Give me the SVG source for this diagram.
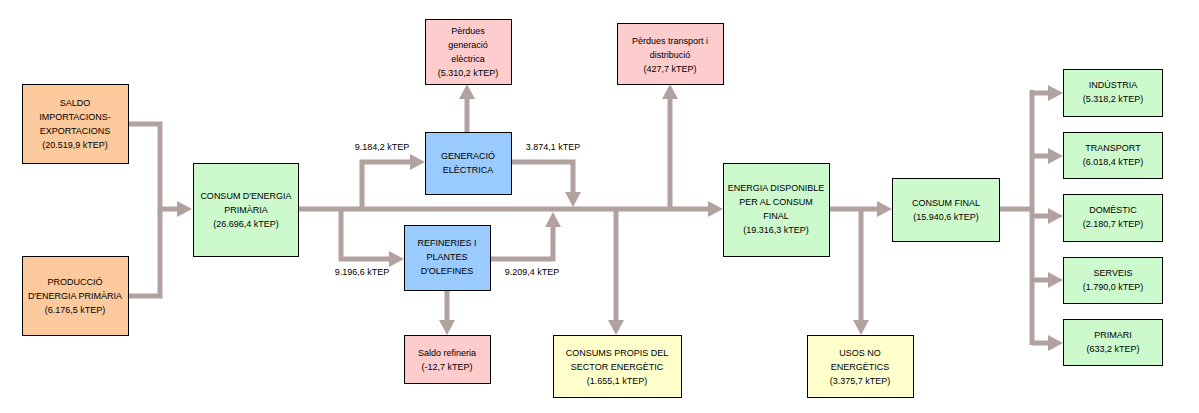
<svg xmlns="http://www.w3.org/2000/svg" width="1199" height="413" viewBox="0 0 1199 413">
<style>
.b{stroke:#000;stroke-width:1}
.o{fill:#fcca9c}.g{fill:#ccfacc}.bl{fill:#99cbff}.p{fill:#fdcccc}.y{fill:#ffffcc}
text{font-family:"Liberation Sans",Arial,sans-serif;font-size:9px;fill:#000;text-anchor:middle}
.c path{fill:none;stroke:#b2a29f;stroke-width:5;stroke-linejoin:miter}
</style>
<defs>
<marker id="ah" markerUnits="userSpaceOnUse" markerWidth="15" markerHeight="16" viewBox="0 0 15 16" refX="1" refY="8" orient="auto">
<path d="M0,0 L15,8 L0,16 Z" fill="#b2a29f"/>
</marker>
</defs>
<rect width="1199" height="413" fill="#fff"/>
<g class="c" id="connectors">
<path d="M128,124 H160 V209 H178" marker-end="url(#ah)"/>
<path d="M128,296 H160 V209"/>
<path d="M298,209 H709" marker-end="url(#ah)"/>
<path d="M362,209 V162 H411" marker-end="url(#ah)"/>
<path d="M511,162 H573 V193" marker-end="url(#ah)"/>
<path d="M467,132 V98" marker-end="url(#ah)"/>
<path d="M341,209 V259 H390" marker-end="url(#ah)"/>
<path d="M490,259 H553 V226" marker-end="url(#ah)"/>
<path d="M447,290 V321" marker-end="url(#ah)"/>
<path d="M670,209 V98" marker-end="url(#ah)"/>
<path d="M616,209 V321" marker-end="url(#ah)"/>
<path d="M829,209 H878" marker-end="url(#ah)"/>
<path d="M861,209 V321" marker-end="url(#ah)"/>
<path d="M999,209 H1032"/>
<path d="M1032,90 V345"/>
<path d="M1032,93 H1049" marker-end="url(#ah)"/>
<path d="M1032,156 H1049" marker-end="url(#ah)"/>
<path d="M1032,216 H1049" marker-end="url(#ah)"/>
<path d="M1032,280 H1049" marker-end="url(#ah)"/>
<path d="M1032,343 H1049" marker-end="url(#ah)"/>
</g>
<g id="labels">
<text x="382" y="150">9.184,2 kTEP</text>
<text x="553" y="150">3.874,1 kTEP</text>
<text x="362" y="275">9.196,6 kTEP</text>
<text x="532" y="275">9.209,4 kTEP</text>
</g>
<g id="saldo"><rect class="b o" x="22.5" y="84.5" width="106" height="79"/>
<text x="75" y="106">SALDO</text><text x="75" y="120">IMPORTACIONS-</text><text x="75" y="134">EXPORTACIONS</text><text x="75" y="148">(20.519,9 kTEP)</text></g>
<g id="produccio"><rect class="b o" x="22.5" y="256.5" width="106" height="79"/>
<text x="75" y="285">PRODUCCIÓ</text><text x="75" y="299">D'ENERGIA PRIMÀRIA</text><text x="75" y="313">(6.176,5 kTEP)</text></g>
<g id="consum-primaria"><rect class="b g" x="193.5" y="163.5" width="105" height="93"/>
<text x="246" y="199">CONSUM D'ENERGIA</text><text x="246" y="213">PRIMÀRIA</text><text x="246" y="227">(26.696,4 kTEP)</text></g>
<g id="perdues-gen"><rect class="b p" x="425.5" y="19.5" width="86" height="65"/>
<text x="468" y="34">Pèrdues</text><text x="468" y="48">generació</text><text x="468" y="62">elèctrica</text><text x="468" y="76">(5.310,2 kTEP)</text></g>
<g id="generacio"><rect class="b bl" x="425.5" y="132.5" width="86" height="62"/>
<text x="468" y="159">GENERACIÓ</text><text x="468" y="173">ELÈCTRICA</text></g>
<g id="refineries"><rect class="b bl" x="404.5" y="225.5" width="86" height="65"/>
<text x="447" y="246">REFINERIES I</text><text x="447" y="260">PLANTES</text><text x="447" y="274">D'OLEFINES</text></g>
<g id="saldo-refineria"><rect class="b p" x="404.5" y="335.5" width="86" height="48"/>
<text x="447" y="356">Saldo refineria</text><text x="447" y="370">(-12,7 kTEP)</text></g>
<g id="consums-propis"><rect class="b y" x="553.5" y="335.5" width="128" height="62"/>
<text x="617" y="356">CONSUMS PROPIS DEL</text><text x="617" y="370">SECTOR ENERGÈTIC</text><text x="617" y="384">(1.655,1 kTEP)</text></g>
<g id="perdues-transport"><rect class="b p" x="617.5" y="23.5" width="106" height="61"/>
<text x="670" y="44">Pèrdues transport i</text><text x="670" y="58">distribució</text><text x="670" y="72">(427,7 kTEP)</text></g>
<g id="energia-disponible"><rect class="b g" x="723.5" y="163.5" width="106" height="93"/>
<text x="776" y="191">ENERGIA DISPONIBLE</text><text x="776" y="205">PER AL CONSUM</text><text x="776" y="219">FINAL</text><text x="776" y="233">(19.316,3 kTEP)</text></g>
<g id="usos"><rect class="b y" x="807.5" y="335.5" width="106" height="62"/>
<text x="860" y="356">USOS NO</text><text x="860" y="370">ENERGÈTICS</text><text x="860" y="384">(3.375,7 kTEP)</text></g>
<g id="consum-final"><rect class="b g" x="892.5" y="178.5" width="107" height="63"/>
<text x="946" y="206">CONSUM FINAL</text><text x="946" y="220">(15.940,6 kTEP)</text></g>
<g id="industria"><rect class="b g" x="1063.5" y="69.5" width="99" height="47"/>
<text x="1113" y="88">INDÚSTRIA</text><text x="1113" y="102">(5.318,2 kTEP)</text></g>
<g id="transport"><rect class="b g" x="1063.5" y="132.5" width="99" height="46"/>
<text x="1113" y="151">TRANSPORT</text><text x="1113" y="165">(6.018,4 kTEP)</text></g>
<g id="domestic"><rect class="b g" x="1063.5" y="194.5" width="99" height="47"/>
<text x="1113" y="213">DOMÈSTIC</text><text x="1113" y="227">(2.180,7 kTEP)</text></g>
<g id="serveis"><rect class="b g" x="1063.5" y="257.5" width="99" height="46"/>
<text x="1113" y="276">SERVEIS</text><text x="1113" y="290">(1.790,0 kTEP)</text></g>
<g id="primari"><rect class="b g" x="1063.5" y="319.5" width="99" height="46"/>
<text x="1113" y="338">PRIMARI</text><text x="1113" y="352">(633,2 kTEP)</text></g>
</svg>
